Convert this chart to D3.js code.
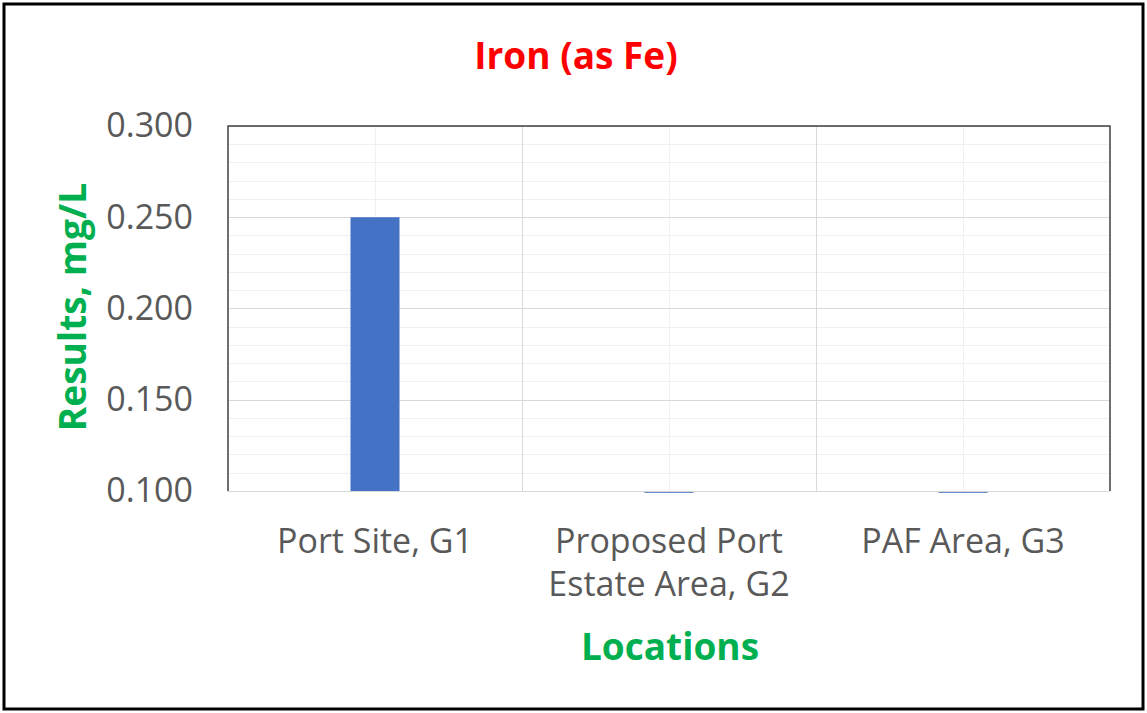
<!DOCTYPE html>
<html>
<head>
<meta charset="utf-8">
<script src="https://cdn.jsdelivr.net/npm/d3@7"></script>
<style>
  body { margin: 0; background: #fff; }
  text { font-family: "Open Sans", sans-serif; }
</style>
</head>
<body>
<div id="chart"></div>
<script>
// chart data
var locations = [["Port Site, G1"], ["Proposed Port", "Estate Area, G2"], ["PAF Area, G3"]];
var results = [0.250, 0.099, 0.099];
var yTicks = [0.100, 0.150, 0.200, 0.250, 0.300];

var W = 1147, H = 713;
var margin = {top: 126, right: 37, bottom: 222, left: 228},
    width = W - margin.left - margin.right,
    height = H - margin.top - margin.bottom;

var svg = d3.select("#chart")
  .append("svg")
    .attr("width", W)
    .attr("height", H);

// outer frame
svg.append("rect")
  .attr("x", 4).attr("y", 4)
  .attr("width", 1139).attr("height", 705)
  .attr("fill", "#fff")
  .attr("stroke", "#000")
  .attr("stroke-width", 3);

var g = svg.append("g")
  .attr("transform", "translate(" + margin.left + "," + margin.top + ")");

var x = d3.scaleBand()
  .domain(d3.range(locations.length))
  .range([0, width]);

var y = d3.scaleLinear()
  .domain([0.1, 0.3])
  .range([height, 0]);

// minor horizontal gridlines
g.append("g")
  .selectAll("line")
  .data(d3.range(0.1, 0.3001, 0.01))
  .enter().append("line")
    .attr("x1", 0).attr("x2", width)
    .attr("y1", function(d) { return Math.round(y(d)) + 0.5; })
    .attr("y2", function(d) { return Math.round(y(d)) + 0.5; })
    .attr("stroke", "#f0f0f0");

// minor vertical gridlines (category centers)
g.append("g")
  .selectAll("line")
  .data(d3.range(locations.length))
  .enter().append("line")
    .attr("x1", function(d) { return Math.round(x(d) + x.bandwidth() / 2) + 0.5; })
    .attr("x2", function(d) { return Math.round(x(d) + x.bandwidth() / 2) + 0.5; })
    .attr("y1", 0).attr("y2", height)
    .attr("stroke", "#f0f0f0");

// major horizontal gridlines
g.append("g")
  .selectAll("line")
  .data(yTicks)
  .enter().append("line")
    .attr("x1", 0).attr("x2", width)
    .attr("y1", function(d) { return Math.round(y(d)) + 0.5; })
    .attr("y2", function(d) { return Math.round(y(d)) + 0.5; })
    .attr("stroke", "#d9d9d9");

// major vertical gridlines (category boundaries)
g.append("g")
  .selectAll("line")
  .data(d3.range(1, locations.length))
  .enter().append("line")
    .attr("x1", function(d) { return Math.round(x(d)) + 0.5; })
    .attr("x2", function(d) { return Math.round(x(d)) + 0.5; })
    .attr("y1", 0).attr("y2", height)
    .attr("stroke", "#d9d9d9");

// bars (gap width 500%)
var barW = x.bandwidth() / 6;
g.append("g")
  .selectAll("rect")
  .data(results)
  .enter().append("rect")
    .attr("x", function(d, i) { return x(i) + (x.bandwidth() - barW) / 2; })
    .attr("width", barW)
    .attr("y", function(d) { return Math.min(y(d), y(0.1)); })
    .attr("height", function(d) { return Math.abs(y(0.1) - y(d)); })
    .attr("fill", "#4472c4");

// plot border: dark top, left, right
g.append("path")
  .attr("d", "M0," + height + "V0H" + width + "V" + height)
  .attr("fill", "none")
  .attr("stroke", "#404040")
  .attr("stroke-width", 1.5);

// x axis line
g.append("line")
  .attr("x1", 0).attr("x2", width)
  .attr("y1", height + 0.5).attr("y2", height + 0.5)
  .attr("stroke", "#d9d9d9");

// Y axis labels
var yAxis = d3.axisLeft(y)
  .tickValues(yTicks)
  .tickSize(0)
  .tickPadding(35)
  .tickFormat(d3.format(".3f"));
g.append("g")
  .call(yAxis)
  .call(function(s) { s.select(".domain").remove(); })
  .selectAll("text")
    .attr("fill", "#595959")
    .style("font-size", "34px");

// X category labels
var xl = g.append("g")
  .selectAll("text")
  .data(locations)
  .enter().append("text")
    .attr("x", function(d, i) { return x(i) + x.bandwidth() / 2; })
    .attr("y", height + 62)
    .attr("text-anchor", "middle")
    .attr("fill", "#595959")
    .style("font-size", "34px");
xl.selectAll("tspan")
  .data(function(d) { return d; })
  .enter().append("tspan")
    .attr("x", function() { return d3.select(this.parentNode).attr("x"); })
    .attr("dy", function(d, i) { return i === 0 ? 0 : 43; })
    .text(function(d) { return d; });

// Chart title
svg.append("text")
  .attr("x", 576)
  .attr("y", 69)
  .attr("text-anchor", "middle")
  .attr("fill", "#ff0000")
  .style("font-size", "37px")
  .style("font-weight", "bold")
  .text("Iron (as Fe)");

// axis titles
svg.append("text")
  .attr("transform", "translate(86," + 307 + ") rotate(-90)")
  .attr("text-anchor", "middle")
  .attr("fill", "#00b050")
  .style("font-size", "37px")
  .style("font-weight", "bold")
  .text("Results, mg/L");

svg.append("text")
  .attr("x", 670)
  .attr("y", 660)
  .attr("text-anchor", "middle")
  .attr("fill", "#00b050")
  .style("font-size", "37px")
  .style("font-weight", "bold")
  .text("Locations");
</script>
</body>
</html>
